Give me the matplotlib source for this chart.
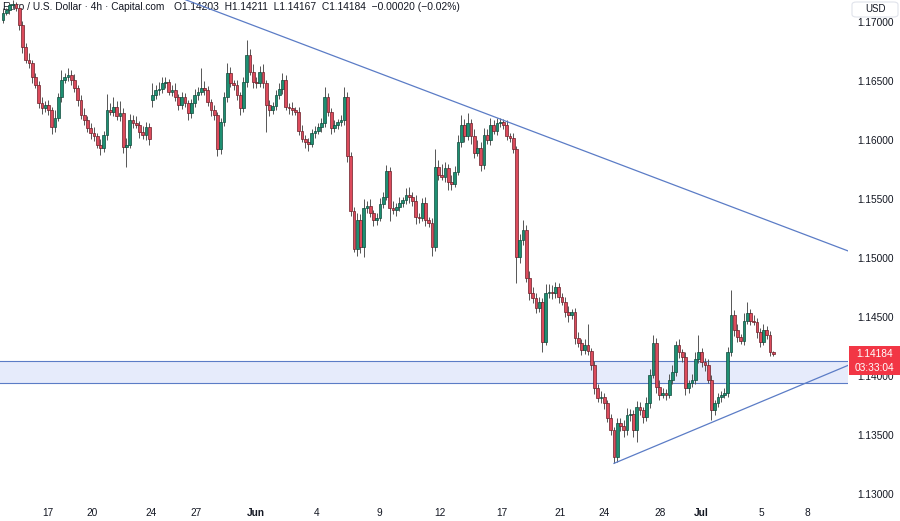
import matplotlib
matplotlib.use("Agg")
import matplotlib.pyplot as plt
import matplotlib.transforms as mtransforms
from matplotlib.patches import Rectangle, FancyBboxPatch

plt.rcParams['font.family'] = ['Liberation Sans', 'DejaVu Sans']

# EUR/USD 4h closes, in pips (price * 10000); open = previous close
closes = [
    11708, 11710, 11714, 11715, 11712, 11697, 11679, 11668, 11665, 11653,
    11647, 11631, 11627, 11630, 11625, 11611, 11619, 11636, 11651, 11653,
    11655, 11651, 11644, 11634, 11621, 11617, 11610, 11606, 11603, 11596,
    11593, 11604, 11625, 11624, 11628, 11620, 11623, 11594, 11596, 11617,
    11614, 11613, 11607, 11604, 11611, 11601, 11638, 11642, 11643, 11648,
    11649, 11641, 11642, 11636, 11630, 11636, 11631, 11623, 11631, 11638,
    11641, 11644, 11642, 11632, 11625, 11621, 11592, 11615, 11636, 11657,
    11648, 11647, 11638, 11627, 11649, 11672, 11658, 11649, 11648, 11658,
    11648, 11630, 11625, 11629, 11638, 11643, 11651, 11628, 11627, 11625,
    11624, 11608, 11601, 11598, 11597, 11606, 11608, 11611, 11614, 11636,
    11624, 11610, 11613, 11615, 11617, 11636, 11586, 11540, 11508, 11532,
    11509, 11542, 11544, 11538, 11532, 11534, 11546, 11552, 11574, 11542,
    11541, 11543, 11547, 11549, 11553, 11552, 11548, 11535, 11534, 11547,
    11532, 11530, 11509, 11577, 11570, 11569, 11576, 11564, 11563, 11573,
    11598, 11613, 11603, 11614, 11603, 11589, 11593, 11579, 11604, 11600,
    11613, 11608, 11614, 11615, 11613, 11603, 11602, 11592, 11501, 11515,
    11524, 11483, 11470, 11466, 11458, 11463, 11429, 11470, 11471, 11470,
    11475, 11467, 11463, 11454, 11452, 11454, 11432, 11428, 11422, 11426,
    11421, 11409, 11390, 11381, 11382, 11377, 11364, 11354, 11331, 11360,
    11358, 11354, 11367, 11368, 11354, 11374, 11371, 11365, 11377, 11401,
    11428, 11391, 11384, 11386, 11384, 11397, 11403, 11426, 11420, 11416,
    11390, 11394, 11397, 11414, 11420, 11412, 11409, 11397, 11371, 11377,
    11382, 11384, 11386, 11420, 11452, 11439, 11433, 11430, 11447, 11453,
    11447, 11446, 11437, 11429, 11439, 11435, 11420.3, 11418.4,
]
# wick lengths above / below the body, in pips
wick_up = [
    4, 2, 3, 4, 2, 3, 4, 3, 6, 3,
    4, 3, 5, 3, 4, 3, 6, 4, 8, 4,
    6, 4, 5, 3, 4, 6, 3, 4, 5, 3,
    5, 4, 14, 6, 8, 5, 10, 4, 6, 5,
    4, 6, 3, 5, 4, 3, 10, 5, 6, 5,
    4, 3, 5, 6, 3, 5, 4, 3, 4, 5,
    4, 17, 6, 4, 3, 5, 3, 4, 5, 8,
    5, 3, 4, 3, 4, 13, 5, 6, 4, 5,
    6, 3, 4, 3, 4, 5, 6, 4, 3, 5,
    3, 4, 5, 3, 4, 3, 4, 3, 5, 9,
    4, 3, 4, 3, 4, 9, 5, 4, 3, 6,
    5, 8, 4, 6, 3, 4, 5, 4, 5, 3,
    6, 4, 5, 3, 6, 7, 4, 5, 3, 4,
    5, 3, 4, 15, 6, 10, 5, 4, 6, 5,
    6, 8, 5, 9, 4, 6, 7, 5, 6, 5,
    6, 4, 5, 4, 3, 4, 3, 4, 3, 5,
    8, 4, 6, 5, 4, 4, 3, 8, 7, 6,
    5, 4, 3, 4, 5, 3, 4, 5, 3, 5,
    18, 3, 4, 3, 5, 4, 3, 4, 3, 4,
    4, 5, 6, 4, 3, 5, 4, 3, 5, 5,
    7, 4, 6, 4, 3, 5, 6, 4, 5, 3,
    4, 3, 5, 6, 15, 4, 3, 5, 4, 3,
    4, 3, 4, 5, 21, 4, 5, 3, 6, 10,
    4, 5, 3, 4, 5, 3, 3, 0.8,
]
wick_dn = [
    3, 2, 3, 2, 3, 4, 5, 3, 4, 5,
    3, 4, 5, 3, 4, 6, 4, 3, 4, 3,
    3, 4, 3, 5, 3, 4, 3, 5, 4, 3,
    6, 3, 4, 3, 4, 3, 4, 5, 17, 3,
    4, 3, 5, 3, 4, 5, 6, 3, 4, 3,
    4, 3, 4, 3, 5, 4, 3, 6, 4, 3,
    4, 3, 4, 3, 5, 4, 6, 4, 3, 4,
    3, 5, 4, 6, 3, 4, 3, 5, 4, 3,
    4, 23, 5, 3, 4, 3, 4, 3, 5, 4,
    3, 4, 3, 5, 6, 3, 4, 3, 4, 3,
    4, 5, 3, 4, 3, 4, 5, 4, 3, 6,
    5, 8, 4, 3, 5, 4, 3, 4, 3, 11,
    4, 5, 3, 4, 3, 5, 4, 6, 4, 3,
    5, 4, 7, 3, 4, 3, 5, 6, 5, 3,
    3, 4, 5, 3, 6, 4, 3, 5, 4, 3,
    4, 3, 4, 3, 4, 3, 4, 3, 22, 5,
    4, 3, 6, 4, 5, 4, 9, 3, 4, 5,
    4, 5, 3, 4, 6, 4, 5, 3, 4, 3,
    3, 4, 5, 3, 4, 5, 3, 4, 5, 4,
    5, 6, 4, 5, 6, 10, 4, 5, 3, 4,
    3, 5, 4, 3, 4, 3, 4, 3, 5, 4,
    6, 4, 3, 4, 3, 4, 5, 3, 8, 4,
    3, 4, 3, 4, 3, 5, 4, 3, 4, 3,
    4, 3, 5, 4, 3, 4, 3, 1.7,
]
first_open = 11702
gap_opens = {46: 11634}  # weekend gap

day_ticks = [13.8, 27.4, 45.5, 59.4, 77.8, 96.6, 115.7, 134.5, 153.5,
             171.4, 184.9, 202.2, 214.8, 233.5, 247.4]
day_labels = ['17', '20', '24', '27', 'Jun', '4', '9', '12', '17',
              '21', '24', '28', 'Jul', '5', '8']
price_ticks = [1.130, 1.135, 1.140, 1.145, 1.150, 1.155, 1.160, 1.165, 1.170]

zone_low, zone_high = 1.13945, 1.14125
down_line_x, down_line_y = [56, 260], [1.1719, 1.1506]
up_line_x, up_line_y = [188, 260], [1.1326, 1.1409]

last_price = 1.14184
countdown = '03:33:04'
title = 'Euro / U.S. Dollar \u00b7 4h \u00b7 Capital.com'
ohlc = 'O1.14203  H1.14211  L1.14167  C1.14184  \u22120.00020 (\u22120.02%)'

GREEN, RED = '#1e8f72', '#dc4b5c'
GREEN_EDGE, RED_EDGE = '#0d4a3b', '#6b1d27'
LINE = '#5b7cc6'

# build OHLC
opens, highs, lows = [], [], []
prev = first_open
for i, c in enumerate(closes):
    o = gap_opens.get(i, prev)
    opens.append(o / 1e4)
    highs.append((max(o, c) + wick_up[i]) / 1e4)
    lows.append((min(o, c) - wick_dn[i]) / 1e4)
    prev = c
cl = [c / 1e4 for c in closes]
xs = list(range(len(cl)))

fig = plt.figure(figsize=(9, 5.21), dpi=100)
ax = fig.add_axes([0, 18 / 521, 848 / 900, 503 / 521])
ax.set_xlim(-0.92, 260)
ax.set_ylim(1.12924, 1.17186)
for s in ax.spines.values():
    s.set_visible(False)

# support zone
ax.axhspan(zone_low, zone_high, color='#e6ebfb', zorder=1, lw=0)
ax.axhline(zone_low, color=LINE, lw=0.8, zorder=2)
ax.axhline(zone_high, color=LINE, lw=0.8, zorder=2)

# header (sits under the candles)
ax.text(3 / 848, 1 - 7 / 503, title, transform=ax.transAxes, fontsize=7.3,
        color='#131722', va='center', ha='left', zorder=1.5)
ax.text(174 / 848, 1 - 7 / 503, ohlc, transform=ax.transAxes, fontsize=7.4,
        color='#131722', va='center', ha='left', zorder=1.5)

# candles
up = [c >= o for o, c in zip(opens, cl)]
ax.vlines(xs, lows, highs, colors='#555555', lw=0.7, zorder=3)
bottoms = [min(o, c) for o, c in zip(opens, cl)]
heights = [max(abs(c - o), 0.00004) for o, c in zip(opens, cl)]
ax.bar(xs, heights, bottom=bottoms, width=0.8,
       color=[GREEN if u else RED for u in up],
       edgecolor=[GREEN_EDGE if u else RED_EDGE for u in up],
       linewidth=0.5, zorder=4)

# trend lines
ax.plot(down_line_x, down_line_y, color=LINE, lw=0.9, zorder=5)
ax.plot(up_line_x, up_line_y, color=LINE, lw=0.9, zorder=5)

# axes
ax.yaxis.tick_right()
ax.set_yticks(price_ticks)
ax.set_yticklabels(['%.5f' % p for p in price_ticks])
ax.set_xticks(day_ticks)
ax.set_xticklabels(day_labels)
ax.tick_params(axis='y', length=0, pad=6.5, labelsize=7.3, labelcolor='#131722')
ax.tick_params(axis='x', length=0, pad=3.6, labelsize=7.3, labelcolor='#131722')
for t in ax.get_xticklabels():
    if t.get_text() in ('Jun', 'Jul'):
        t.set_fontweight('bold')

# last price tag
blend = mtransforms.blended_transform_factory(fig.transFigure, ax.transData)
ppx = (ax.get_ylim()[1] - ax.get_ylim()[0]) / 503
fig.add_artist(Rectangle((849 / 900, last_price - 21 * ppx), 51 / 900, 29 * ppx,
                         transform=blend, facecolor='#f23645', edgecolor='none', zorder=5))
fig.text(874.5 / 900, last_price, '%.5f' % last_price, transform=blend,
         color='white', fontsize=7.3, ha='center', va='center', zorder=6)
fig.text(874.5 / 900, last_price - 14 * ppx, countdown, transform=blend,
         color='white', fontsize=7.3, ha='center', va='center', zorder=6)

# currency box
fig.add_artist(FancyBboxPatch((852 / 900, 1 - 17 / 521), 46 / 900, 15 / 521,
                              boxstyle='round,pad=0,rounding_size=0.005',
                              transform=fig.transFigure, facecolor='white',
                              edgecolor='#e0e3eb', lw=0.8, zorder=5))
fig.text(875 / 900, 1 - 9 / 521, 'USD', fontsize=7, color='#131722',
         ha='center', va='center', zorder=6)

fig.savefig('out.png', dpi=100, facecolor='white')
